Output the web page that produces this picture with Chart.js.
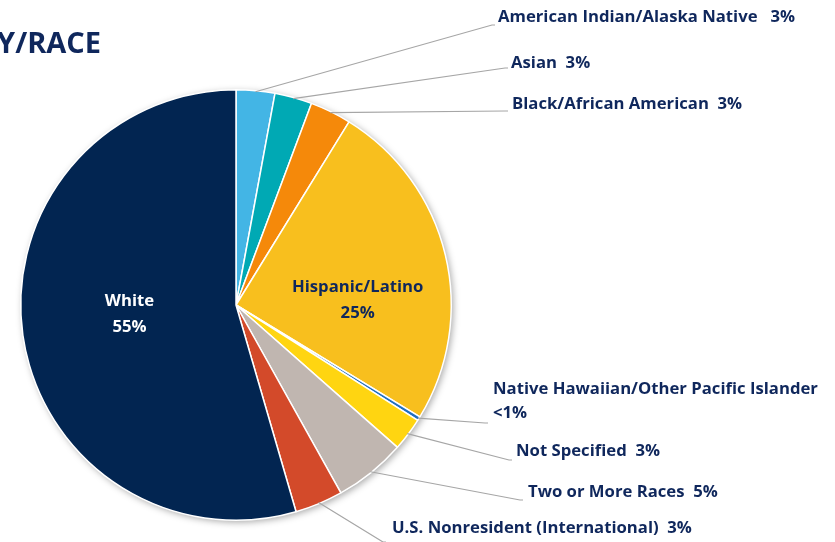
<!DOCTYPE html>
<html>
<head>
<meta charset="utf-8">
<script src="https://cdn.jsdelivr.net/npm/chart.js@4.4.1/dist/chart.umd.min.js"></script>
<style>
    html, body { margin: 0; padding: 0; background: #ffffff; }
    #wrap { position: relative; width: 835px; height: 542px; }
</style>
</head>
<body>
<div id="wrap"><canvas id="chart" width="835" height="542"></canvas></div>
<script>
(function () {
    'use strict';

    // Data (percent of students, clockwise from 12 o'clock)
    var CATEGORIES = [
        'American Indian/Alaska Native',
        'Asian',
        'Black/African American',
        'Hispanic/Latino',
        'Native Hawaiian/Other Pacific Islander',
        'Not Specified',
        'Two or More Races',
        'U.S. Nonresident (International)',
        'White'
    ];
    var VALUES = [2.9, 2.8, 3.1, 24.9, 0.3, 2.5, 5.4, 3.6, 54.5];
    var VALUE_TEXT = ['3%', '3%', '3%', '25%', '<1%', '3%', '5%', '3%', '55%'];
    var COLORS = ['#43b5e5', '#00a9b4', '#f5890a', '#f8bf1e', '#1e6ec2',
        '#ffd511', '#c0b6b0', '#d34a2a', '#022551'];
    var TITLE = 'ETHNICITY/RACE';

    var NAVY = '#0f275c';
    var LEADER = '#a6a6a6';
    var FONT = '"Open Sans", Lato, sans-serif';

    // outside labels: elbow end of leader line, text start, text centre y
    var OUTSIDE = {
        0: { ex: 495, ey: 25, tx: 498, ty: 17, sep: '   ' },
        1: { ex: 508, ey: 68, tx: 511, ty: 63, sep: '  ' },
        2: { ex: 508, ey: 111, tx: 512, ty: 104, sep: '  ' },
        4: { ex: 488, ey: 423, tx: 493, ty: 389, twoLine: true },
        5: { ex: 512, ey: 460, tx: 516, ty: 451, sep: '  ' },
        6: { ex: 523, ey: 500, tx: 528, ty: 492, sep: '  ' },
        7: { ex: 386, ey: 542, tx: 392, ty: 528, sep: '  ' }
    };
    // inside labels: offset from arc centroid
    var INSIDE = {
        3: { dx: 17, dy: 20, color: NAVY },
        8: { dx: 0, dy: -6, color: '#ffffff' }
    };

    function midPoint(arc, f) {
        var a = (arc.startAngle + arc.endAngle) / 2;
        var r = arc.outerRadius * f;
        return { x: arc.x + Math.cos(a) * r, y: arc.y + Math.sin(a) * r };
    }

    var shadowPlugin = {
        id: 'pieShadow',
        beforeDatasetsDraw: function (chart) {
            var arc = chart.getDatasetMeta(0).data[0];
            if (!arc) { return; }
            var ctx = chart.ctx;
            ctx.save();
            ctx.shadowColor = 'rgba(0, 0, 0, 0.35)';
            ctx.shadowBlur = 7;
            ctx.shadowOffsetX = 2;
            ctx.shadowOffsetY = 2;
            ctx.fillStyle = '#ffffff';
            ctx.beginPath();
            ctx.arc(arc.x, arc.y, arc.outerRadius, 0, Math.PI * 2);
            ctx.fill();
            ctx.restore();
        }
    };

    var labelPlugin = {
        id: 'pieLabels',
        afterDatasetsDraw: function (chart) {
            var ctx = chart.ctx;
            var arcs = chart.getDatasetMeta(0).data;
            ctx.save();

            // title, cut off at the left edge as in the source slide
            ctx.font = 'bold 29px ' + FONT;
            ctx.fillStyle = NAVY;
            ctx.textAlign = 'right';
            ctx.textBaseline = 'middle';
            ctx.fillText(TITLE, 101, 45);

            ctx.font = 'bold 16.7px ' + FONT;
            for (var i = 0; i < arcs.length; i++) {
                var arc = arcs[i];
                var o = OUTSIDE[i];
                if (o) {
                    var s = midPoint(arc, 0.995);
                    ctx.strokeStyle = LEADER;
                    ctx.lineWidth = 1.2;
                    ctx.beginPath();
                    ctx.moveTo(s.x, s.y);
                    ctx.lineTo(o.ex - 3, o.ey);
                    ctx.lineTo(o.ex, o.ey);
                    ctx.stroke();

                    ctx.fillStyle = NAVY;
                    ctx.textAlign = 'left';
                    ctx.textBaseline = 'middle';
                    if (o.twoLine) {
                        ctx.fillText(CATEGORIES[i], o.tx, o.ty);
                        ctx.fillText(VALUE_TEXT[i], o.tx, o.ty + 24);
                    } else {
                        ctx.fillText(CATEGORIES[i] + o.sep + VALUE_TEXT[i], o.tx, o.ty);
                    }
                }
                var n = INSIDE[i];
                if (n) {
                    var p = arc.tooltipPosition();
                    ctx.fillStyle = n.color;
                    ctx.textAlign = 'center';
                    ctx.textBaseline = 'middle';
                    ctx.fillText(CATEGORIES[i], p.x + n.dx, p.y + n.dy - 13);
                    ctx.fillText(VALUE_TEXT[i], p.x + n.dx, p.y + n.dy + 13);
                }
            }
            ctx.restore();
        }
    };

    new Chart(document.getElementById('chart'), {
        type: 'pie',
        data: {
            labels: CATEGORIES,
            datasets: [{
                data: VALUES,
                backgroundColor: COLORS,
                borderColor: '#ffffff',
                borderWidth: 1.5
            }]
        },
        options: {
            responsive: false,
            animation: false,
            layout: { padding: { left: 20, right: 383, top: 89, bottom: 21 } },
            plugins: {
                legend: { display: false },
                tooltip: { enabled: false },
                title: { display: false }
            }
        },
        plugins: [shadowPlugin, labelPlugin]
    });
})();
</script>
</body>
</html>
